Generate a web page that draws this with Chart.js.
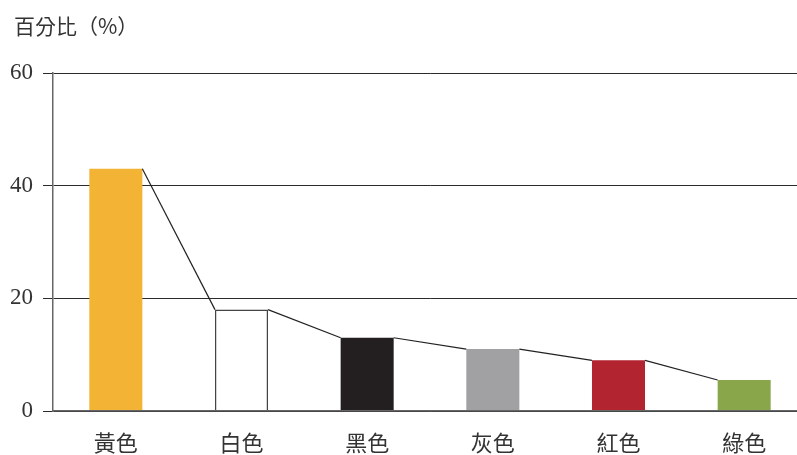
<!DOCTYPE html>
<html lang="zh-Hant">
<head>
<meta charset="utf-8">
<title>百分比</title>
<script src="https://cdn.jsdelivr.net/npm/chart.js@4/dist/chart.umd.min.js"></script>
<style>
    html, body { margin: 0; padding: 0; background: #fff; overflow: hidden; }
    #chart-wrap { position: relative; width: 807px; height: 455px; }
</style>
</head>
<body>
<div id="chart-wrap"><canvas id="colorChart"></canvas></div>
<script>
// --- DATA ---
const categories = ['黃色', '白色', '黑色', '灰色', '紅色', '綠色'];
const percentages = [43, 18, 13, 11, 9, 5.5];
const barColors = ['#f3b335', '#ffffff', '#231f20', '#a1a1a4', '#b22530', '#89a64a'];
const yTicks = [0, 20, 40, 60];
const yTitle = '百分比（%）';

const cjkFont = "'Noto Sans CJK TC', 'Noto Sans CJK SC', sans-serif";
const textColor = '#333333';

document.addEventListener('DOMContentLoaded', () => {
    const canvas = document.getElementById('colorChart');

    // --- Unit caption in the top-left corner ---
    const captionPlugin = {
        id: 'caption',
        afterDraw(chart) {
            const ctx = chart.ctx;
            ctx.save();
            ctx.font = `21px ${cjkFont}`;
            ctx.fillStyle = textColor;
            ctx.textAlign = 'left';
            ctx.textBaseline = 'middle';
            ctx.fillText(yTitle, 14, 26);
            ctx.restore();
        }
    };

    // --- Thin lines joining each bar top to the next one ---
    const connectorPlugin = {
        id: 'connectors',
        afterDatasetsDraw(chart) {
            const bars = chart.getDatasetMeta(0).data;
            const ctx = chart.ctx;
            ctx.save();
            ctx.strokeStyle = '#222222';
            ctx.lineWidth = 1.2;
            for (let i = 0; i < bars.length - 1; i++) {
                const a = bars[i], b = bars[i + 1];
                ctx.beginPath();
                ctx.moveTo(a.x + a.width / 2, a.y);
                ctx.lineTo(b.x - b.width / 2, b.y);
                ctx.stroke();
            }
            ctx.restore();
        }
    };

    new Chart(canvas, {
        type: 'bar',
        data: {
            labels: categories,
            datasets: [{
                data: percentages,
                backgroundColor: barColors,
                borderColor: barColors.map(c => c === '#ffffff' ? '#444444' : c),
                borderWidth: barColors.map(c => c === '#ffffff' ? 1.5 : 0),
                borderSkipped: 'start',
                categoryPercentage: 1,
                barPercentage: 0.422
            }]
        },
        options: {
            responsive: true,
            maintainAspectRatio: false,
            animation: false,
            layout: { padding: { top: 73, left: 0, right: 0, bottom: 0 } },
            plugins: {
                legend: { display: false },
                tooltip: { enabled: false }
            },
            scales: {
                x: {
                    grid: { display: false, drawTicks: false },
                    border: { color: '#666666', width: 1.5, z: 1 },
                    ticks: {
                        color: textColor,
                        padding: 18,
                        font: { family: cjkFont, size: 22 }
                    },
                    afterFit(scale) { scale.height = 44; }
                },
                y: {
                    min: 0,
                    max: 60,
                    afterBuildTicks(scale) {
                        scale.ticks = yTicks.map(v => ({ value: v }));
                    },
                    grid: {
                        color: '#2b2b2b',
                        lineWidth: 1,
                        tickLength: 10
                    },
                    border: { color: '#666666', width: 1.5 },
                    ticks: {
                        color: textColor,
                        padding: 10,
                        font: { family: "'Liberation Serif', serif", size: 23 }
                    },
                    afterFit(scale) { scale.width = 53; }
                }
            }
        },
        plugins: [captionPlugin, connectorPlugin]
    });
});
</script>
</body>
</html>
